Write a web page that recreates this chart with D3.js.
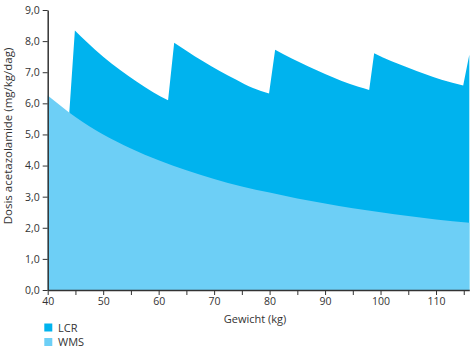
<!DOCTYPE html>
<html><head><meta charset="utf-8">
<script src="https://cdn.jsdelivr.net/npm/d3@7"></script>
<style>
html,body{margin:0;padding:0;background:#fff;}
svg{display:block;font-family:"Open Sans",sans-serif;}
</style></head>
<body>
<svg id="c" width="476" height="350"></svg>
<script>
// Data
const wmsWeights = [40, 45, 50, 55, 60, 65, 70, 75, 80, 85, 90, 95, 100, 105, 110, 116];
const wmsDose    = [6.25, 5.56, 5.0, 4.55, 4.17, 3.85, 3.57, 3.33, 3.13, 2.94, 2.78, 2.63, 2.5, 2.38, 2.27, 2.16];

const lcrWeights = [43.9, 44.9, 47, 50, 53, 56, 59, 61.7,
                    62.8, 65, 68, 71, 74, 77, 79.9,
                    81, 84, 87, 90, 93, 96, 97.95,
                    98.85, 102, 105, 108, 111, 114.9, 116];
const lcrDose    = [5.72, 8.34, 7.98, 7.5, 7.08, 6.7, 6.36, 6.1,
                    7.95, 7.69, 7.35, 7.04, 6.76, 6.49, 6.32,
                    7.72, 7.44, 7.18, 6.94, 6.72, 6.53, 6.43,
                    7.61, 7.35, 7.14, 6.94, 6.76, 6.57, 7.56];

const xMajorTicks = [40, 50, 60, 70, 80, 90, 100, 110];
const xMinorTicks = [45, 55, 65, 75, 85, 95, 105, 115];
const yTicks = [0, 1, 2, 3, 4, 5, 6, 7, 8, 9];
const seriesNames = ["LCR", "WMS"];
const seriesColors = ["#00b3ee", "#6dcff6"];

const svg = d3.select("#c");
const x = d3.scaleLinear().domain([40, 116]).range([47.7, 469.3]);
const y = d3.scaleLinear().domain([0, 9]).range([290, 10]);

const lcr = lcrWeights.map((w, i) => ({w, v: lcrDose[i]}));
const wms = wmsWeights.map((w, i) => ({w, v: wmsDose[i]}));

// LCR: split into decreasing runs at each jump; smooth within runs, straight jumps between
const runs = [];
let cur = [];
lcr.forEach((p, i) => {
  if (i > 0 && p.v > lcr[i - 1].v) { runs.push(cur); cur = []; }
  cur.push(p);
});
runs.push(cur);
const segLine = d3.line().x(d => x(d.w)).y(d => y(d.v)).curve(d3.curveMonotoneX);
let dPath = `M${x(lcr[0].w)},${y(0)}`;
runs.forEach(r => {
  if (r.length === 1) dPath += `L${x(r[0].w)},${y(r[0].v)}`;
  else dPath += segLine(r).replace(/^M/, "L");
});
dPath += `L${x(lcr[lcr.length - 1].w)},${y(0)}Z`;
svg.append("path").attr("d", dPath).attr("fill", seriesColors[0]);

const area = d3.area().x(d => x(d.w)).y0(y(0)).y1(d => y(d.v)).curve(d3.curveMonotoneX);
svg.append("path").datum(wms).attr("d", area).attr("fill", seriesColors[1]);

const fmt = d => d3.format(".1f")(d).replace(".", ",");
const axisColor = "#333";

svg.append("g").attr("transform", `translate(${x(40)},0)`)
  .call(d3.axisLeft(y).tickValues(yTicks).tickFormat(fmt).tickSize(5).tickSizeOuter(0).tickPadding(3));
svg.append("g").attr("transform", `translate(0,${y(0)})`)
  .call(d3.axisBottom(x).tickValues(xMajorTicks).tickFormat(d3.format("d")).tickSize(5).tickSizeOuter(0).tickPadding(3));
svg.append("g").attr("transform", `translate(0,${y(0)})`)
  .call(d3.axisBottom(x).tickValues(xMinorTicks).tickFormat("").tickSize(5).tickSizeOuter(0))
  .select(".domain").remove();

svg.selectAll(".domain").attr("stroke", axisColor).attr("stroke-width", 1.5);
svg.selectAll(".tick line").attr("stroke", axisColor).attr("stroke-width", 1);
svg.selectAll(".tick text").attr("fill", "#333").style("font-size", "10.5px").style("font-family", "'Open Sans',sans-serif");

svg.append("text").attr("x", 255).attr("y", 323).attr("text-anchor", "middle")
  .attr("fill", "#333").style("font-size", "11px").text("Gewicht (kg)");
svg.append("text").attr("transform", "translate(11.5,136) rotate(-90)").attr("text-anchor", "middle")
  .attr("fill", "#333").style("font-size", "11.5px").text("Dosis acetazolamide (mg/kg/dag)");

const lg = svg.append("g");
seriesNames.forEach((n, i) => {
  lg.append("rect").attr("x", 44.3).attr("y", 323.5 + i * 14.5).attr("width", 8).attr("height", 8).attr("fill", seriesColors[i]);
  lg.append("text").attr("x", 58).attr("y", 331.5 + i * 14.5).attr("fill", "#333").style("font-size", "11px").text(n);
});
</script>
</body></html>
